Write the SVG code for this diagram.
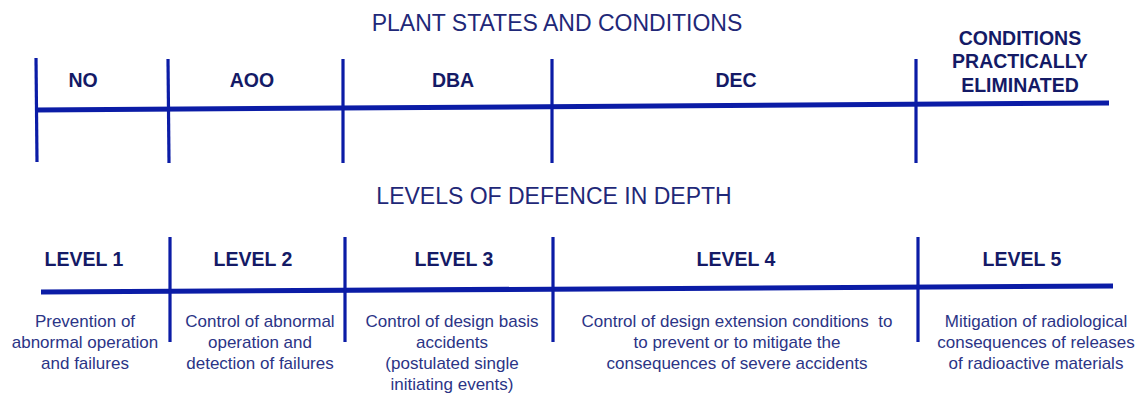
<svg xmlns="http://www.w3.org/2000/svg" width="1141" height="394" viewBox="0 0 1141 394">
<style>
.ttl{font-family:"Liberation Sans",Arial,sans-serif;font-size:23px;fill:#1f2878;text-anchor:middle}
.lbl{font-family:"Liberation Sans",Arial,sans-serif;font-size:19.5px;font-weight:bold;fill:#141a66;text-anchor:middle}
.dsc{font-family:"Liberation Sans",Arial,sans-serif;font-size:17px;fill:#2b3486;text-anchor:middle;white-space:pre}
.axis{stroke:#0b1ca6;stroke-width:5;fill:none}
.tick{stroke:#0b1ca6;stroke-width:3.2;fill:none}
</style>
<rect width="1141" height="394" fill="#ffffff"/>
<text id="title-states" class="ttl" x="557" y="31">PLANT STATES AND CONDITIONS</text>
<text id="title-levels" class="ttl" x="554" y="204">LEVELS OF DEFENCE IN DEPTH</text>
<g id="connectors">
  <line class="axis" x1="36" y1="110" x2="1109" y2="103"/>
  <line class="tick" x1="36" y1="58" x2="37" y2="162"/>
  <line class="tick" x1="168" y1="59" x2="169" y2="163"/>
  <line class="tick" x1="343" y1="59" x2="343" y2="163"/>
  <line class="tick" x1="552" y1="59" x2="552" y2="163"/>
  <line class="tick" x1="916" y1="59" x2="916" y2="163"/>
  <line class="axis" x1="41" y1="292" x2="1113" y2="286"/>
  <line class="tick" x1="170" y1="237" x2="170" y2="342"/>
  <line class="tick" x1="345" y1="237" x2="345" y2="342"/>
  <line class="tick" x1="553" y1="237" x2="553" y2="342"/>
  <line class="tick" x1="918" y1="237" x2="918" y2="342"/>
</g>
<g id="state-no"><text class="lbl" x="83" y="87">NO</text></g>
<g id="state-aoo"><text class="lbl" x="252" y="87">AOO</text></g>
<g id="state-dba"><text class="lbl" x="453" y="87">DBA</text></g>
<g id="state-dec"><text class="lbl" x="736" y="87">DEC</text></g>
<g id="state-cpe">
  <text class="lbl" x="1020" y="45">CONDITIONS</text>
  <text class="lbl" x="1020" y="68">PRACTICALLY</text>
  <text class="lbl" x="1020" y="92">ELIMINATED</text>
</g>
<g id="level-1">
  <text class="lbl" x="84" y="266">LEVEL 1</text>
  <text class="dsc" x="85" y="327">Prevention of</text>
  <text class="dsc" x="85" y="348">abnormal operation</text>
  <text class="dsc" x="85" y="369">and failures</text>
</g>
<g id="level-2">
  <text class="lbl" x="253" y="266">LEVEL 2</text>
  <text class="dsc" x="260" y="327">Control of abnormal</text>
  <text class="dsc" x="260" y="348">operation and</text>
  <text class="dsc" x="260" y="369">detection of failures</text>
</g>
<g id="level-3">
  <text class="lbl" x="454" y="266">LEVEL 3</text>
  <text class="dsc" x="452" y="327">Control of design basis</text>
  <text class="dsc" x="452" y="348">accidents</text>
  <text class="dsc" x="452" y="369">(postulated single</text>
  <text class="dsc" x="452" y="390">initiating events)</text>
</g>
<g id="level-4">
  <text class="lbl" x="736" y="266">LEVEL 4</text>
  <text class="dsc" x="737" y="327">Control of design extension conditions  to</text>
  <text class="dsc" x="737" y="348">to prevent or to mitigate the</text>
  <text class="dsc" x="737" y="369">consequences of severe accidents</text>
</g>
<g id="level-5">
  <text class="lbl" x="1022" y="266">LEVEL 5</text>
  <text class="dsc" x="1036" y="327">Mitigation of radiological</text>
  <text class="dsc" x="1036" y="348">consequences of releases</text>
  <text class="dsc" x="1036" y="369">of radioactive materials</text>
</g>
</svg>
